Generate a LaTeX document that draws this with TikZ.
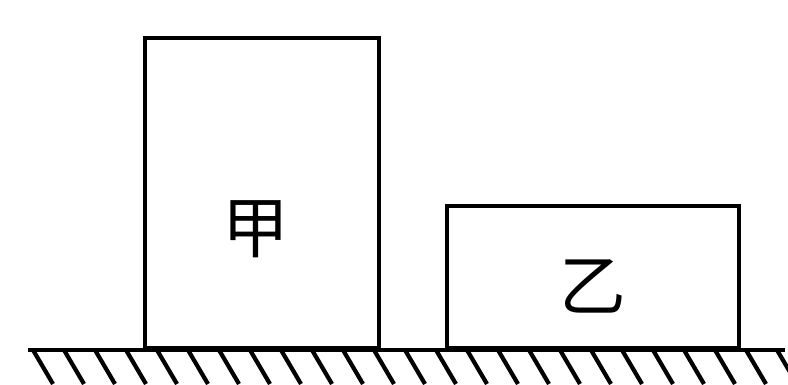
\documentclass[tikz,border=0pt]{standalone}
\usepackage{fontspec}
\newfontfamily\cjk{Noto Sans CJK SC}
\usetikzlibrary{positioning}

\begin{document}
\begin{tikzpicture}[x=1cm,y=1cm]
    \tikzstyle{block}=[draw=black, line width=1pt, inner sep=0pt, anchor=south west]
    \tikzstyle{hatch}=[black, line width=1.2pt]
    \tikzstyle{tag}=[font=\cjk\fontsize{19}{19}\selectfont]
    \useasboundingbox (0,0) rectangle (7.88,-3.85);
    % ground
    \coordinate (gl) at (0.28,-3.50);
    \coordinate (gr) at (7.85,-3.50);
    \draw [black, line width=1pt] (gl) -- (gr);
    \foreach \x in {0,...,24}
        \draw [hatch] (0.33+0.31*\x,-3.50) -- ++(0.2,-0.34);
    % blocks
    \node [block, minimum width=2.34cm, minimum height=3.10cm] (jia) at (1.43,-3.50) {};
    \node [block, minimum width=2.92cm, minimum height=1.42cm] (yi) at (4.45,-3.50) {};
    \node [tag] (jialabel) at (2.56,-2.29) {甲};
    \node [tag] (yilabel) at (5.93,-2.86) {乙};
\end{tikzpicture}
\end{document}
